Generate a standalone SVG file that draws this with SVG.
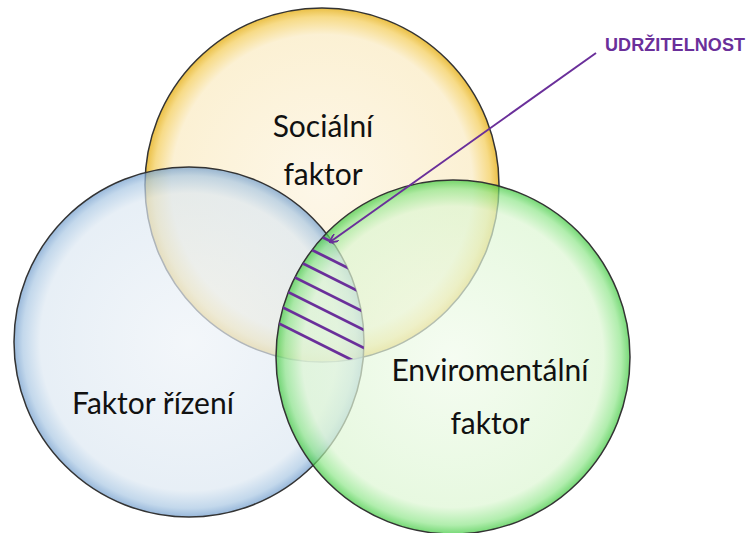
<svg xmlns="http://www.w3.org/2000/svg" width="749" height="533" viewBox="0 0 749 533">
<style>
.lbl{font-family:Lato,"Open Sans","Liberation Sans",sans-serif;font-size:30px;fill:#111;text-anchor:middle}
.edge{fill:none;stroke:#333;stroke-width:1.5}
.hatch{stroke:#6a2f9a;stroke-width:2.8}
</style>
<defs>
<radialGradient id="gy" cx="0.5" cy="0.5" r="0.5">
<stop offset="0" stop-color="#fdf6e6"/><stop offset="0.85" stop-color="#fbefcf"/><stop offset="0.95" stop-color="#f6d77a"/><stop offset="1" stop-color="#e8b830"/>
</radialGradient>
<radialGradient id="gb" cx="0.5" cy="0.5" r="0.5">
<stop offset="0" stop-color="#eef3f8"/><stop offset="0.85" stop-color="#dde8f2"/><stop offset="0.95" stop-color="#a9c7e3"/><stop offset="1" stop-color="#6d9acb"/>
</radialGradient>
<radialGradient id="gg" cx="0.5" cy="0.5" r="0.5">
<stop offset="0" stop-color="#f1fbec"/><stop offset="0.85" stop-color="#ddf6d3"/><stop offset="0.95" stop-color="#8fe68a"/><stop offset="1" stop-color="#3cc83c"/>
</radialGradient>
<clipPath id="cy"><circle cx="322" cy="185" r="177"/></clipPath>
<clipPath id="cb"><circle cx="189" cy="342" r="175"/></clipPath>
<clipPath id="cg"><circle cx="453" cy="357" r="177"/></clipPath>
<marker id="ah" viewBox="0 0 10 10" refX="9" refY="5" markerWidth="9" markerHeight="9" orient="auto" markerUnits="userSpaceOnUse">
<path d="M0,0 L10,5 L0,10" fill="none" stroke="#6a2f9a" stroke-width="2"/>
</marker>
</defs>
<rect width="749" height="533" fill="#fff"/>
<g id="socialni">
<circle cx="322" cy="185" r="177" fill="url(#gy)" opacity="0.9"/>
<circle class="edge" cx="322" cy="185" r="177"/>
<text class="lbl" x="323" y="137">Sociální</text>
<text class="lbl" x="323" y="185">faktor</text>
</g>
<g id="rizeni">
<circle cx="189" cy="342" r="175" fill="url(#gb)" opacity="0.7"/>
<circle class="edge" cx="189" cy="342" r="175"/>
<text class="lbl" x="153" y="414">Faktor řízení</text>
</g>
<g id="enviro">
<circle cx="453" cy="357" r="177" fill="url(#gg)" opacity="0.7"/>
<circle class="edge" cx="453" cy="357" r="177"/>
<text class="lbl" x="490" y="381">Enviromentální</text>
<text class="lbl" x="490" y="434">faktor</text>
</g>
<g id="udrzitelnost">
<g clip-path="url(#cy)"><g clip-path="url(#cb)"><g clip-path="url(#cg)">
<line class="hatch" x1="260" y1="206" x2="400" y2="276"/>
<line class="hatch" x1="260" y1="224" x2="400" y2="294"/>
<line class="hatch" x1="260" y1="242" x2="400" y2="312"/>
<line class="hatch" x1="260" y1="260" x2="400" y2="330"/>
<line class="hatch" x1="260" y1="278" x2="400" y2="348"/>
<line class="hatch" x1="260" y1="296" x2="400" y2="366"/>
<line class="hatch" x1="260" y1="314" x2="400" y2="384"/>
</g></g></g>
<text x="605" y="51" font-family="'Liberation Sans',Arial,sans-serif" font-size="18" font-weight="bold" fill="#6a2f9a" textLength="140">UDRŽITELNOST</text>
</g>
<g id="connectors">
<line x1="596" y1="53" x2="330" y2="242" stroke="#6a2f9a" stroke-width="2" marker-end="url(#ah)"/>
</g>
</svg>
